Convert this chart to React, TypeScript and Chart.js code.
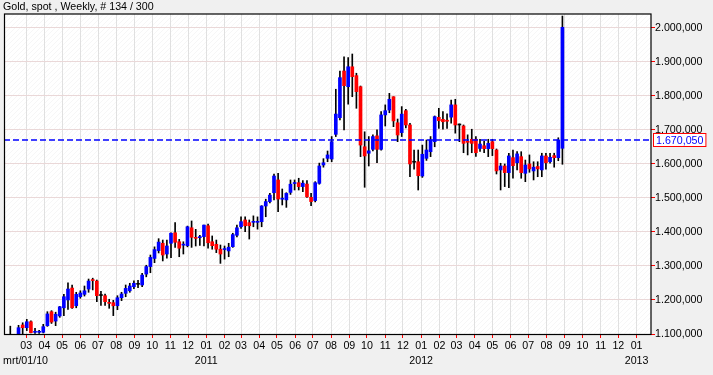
import React, { useEffect, useRef } from "react";
import { Chart, registerables } from "chart.js";

Chart.register(...registerables);

const TITLE = "Gold, spot , Weekly, # 134 / 300";
const START_LABEL = "mrt/01/10";
const FIRST_CANDLE_UTC = Date.UTC(2010, 1, 2);
const FIRST_TICK = { year: 2010, month: 2 };
const LAST_TICK = { year: 2013, month: 0 };
const LAST_PRICE = 1670.05;
const Y_MIN = 1100;
const Y_MAX = 2040;
const X_MIN = -1.53;
const X_MAX = 155.5;
const yTickValues = [1100, 1200, 1300, 1400, 1500, 1600, 1700, 1800, 1900, 2000];

const opens = [
  1085, 1090, 1090, 1126.5, 1118.5, 1136, 1105, 1105, 1105, 1124.5,
  1165.5, 1138, 1153, 1177, 1200, 1235, 1183, 1209.5, 1216.5, 1232,
  1258, 1255.5, 1213, 1212.5, 1191, 1192, 1183, 1206.5, 1219.5, 1227,
  1239, 1246, 1244, 1276, 1298, 1322, 1345, 1366.6, 1335, 1366.5,
  1397.5, 1371, 1361, 1359.5, 1412, 1382, 1383, 1386, 1418, 1371,
  1363.5, 1349, 1348, 1344, 1356.5, 1390, 1415, 1435, 1427, 1428,
  1428, 1430, 1476, 1489, 1515, 1552.5, 1496, 1494, 1516, 1542,
  1544.5, 1533, 1540.5, 1501.5, 1492, 1542.5, 1596.5, 1616, 1614, 1686.5,
  1735.5, 1872.5, 1826.5, 1885, 1859, 1826.5, 1650, 1631, 1642.5, 1682,
  1642.5, 1743.5, 1758, 1797, 1720.5, 1691.5, 1756, 1714, 1604.5, 1606,
  1564, 1616, 1635.5, 1665, 1736.5, 1730.5, 1726, 1737, 1773, 1714,
  1711, 1664, 1672, 1672, 1645, 1653, 1644.5, 1665, 1640.5, 1582,
  1593.5, 1574, 1618, 1603, 1621, 1572, 1599.5, 1579, 1592, 1582,
  1623, 1606, 1624, 1618, 1645.5,
];

const highs = [
  1123, 1098, 1125.5, 1133, 1143, 1139, 1117, 1111, 1128.5, 1165.5,
  1168.5, 1164, 1181, 1216.5, 1250, 1244, 1222.5, 1227, 1241, 1261.5,
  1264, 1258.5, 1225, 1217.5, 1202, 1199, 1212.5, 1222.5, 1244, 1249,
  1256.5, 1258, 1278, 1302, 1332, 1356, 1380, 1376, 1376, 1397.5,
  1427, 1378, 1371, 1417, 1432, 1407.5, 1390, 1420, 1423, 1388,
  1376, 1361.5, 1358.5, 1366.5, 1396, 1420, 1444.5, 1444.5, 1435, 1447,
  1444, 1477, 1496, 1513, 1570, 1572, 1526, 1515, 1552.5, 1552.5,
  1557.5, 1550.5, 1550.5, 1513, 1547.5, 1602, 1615, 1637.5, 1680, 1819,
  1872.5, 1914.5, 1912, 1922.5, 1866, 1828.5, 1694, 1680, 1685, 1699.5,
  1753, 1773, 1807, 1797, 1731.5, 1768, 1760, 1719, 1640.5, 1640.5,
  1655, 1670, 1680, 1740.5, 1763, 1753, 1747, 1787.5, 1789.5, 1717,
  1714, 1685, 1701.5, 1680, 1672, 1666, 1672, 1672, 1643.5, 1601.5,
  1599.5, 1631, 1640.5, 1635.5, 1635.5, 1611, 1626, 1606, 1606, 1631,
  1631, 1631, 1631, 1676.5, 2034,
];

const lows = [
  1070, 1060, 1080, 1098, 1110, 1103, 1102, 1102, 1103, 1122.5,
  1131, 1124.5, 1149, 1154, 1172.5, 1175, 1177, 1205, 1211.5, 1222.5,
  1229.5, 1195, 1184, 1184, 1175.5, 1154, 1171.5, 1198, 1209.5, 1222.5,
  1233, 1236, 1239, 1268, 1280, 1309.5, 1338, 1314.6, 1323, 1324,
  1354.5, 1327, 1335, 1356, 1354.5, 1358.5, 1360, 1358.5, 1352, 1349,
  1339, 1307.5, 1320, 1327, 1354.5, 1385, 1410.5, 1400.5, 1379, 1415,
  1408, 1415, 1444.5, 1485, 1494, 1459, 1479, 1472, 1510, 1523,
  1523, 1518, 1501.5, 1477, 1488, 1540, 1590, 1606, 1606, 1680,
  1729, 1699.5, 1775, 1797, 1763, 1621, 1531, 1593.5, 1638, 1603,
  1640, 1711, 1750, 1709, 1665, 1680, 1705, 1562, 1584, 1523,
  1560, 1610, 1621, 1650, 1704, 1701.5, 1704, 1719, 1690, 1665,
  1632.5, 1626, 1632.5, 1622, 1636, 1633, 1621, 1624, 1570, 1523,
  1533, 1530, 1557.5, 1582, 1557.5, 1547.5, 1575, 1552.5, 1562, 1562,
  1584, 1601.5, 1590, 1609, 1598.5,
];

const closes = [
  1095, 1075, 1118.5, 1118.5, 1136, 1104, 1106, 1107, 1121.5, 1159,
  1135, 1158, 1180, 1209.5, 1232, 1177, 1216.5, 1220.5, 1227, 1255.5,
  1257, 1212.5, 1213, 1195, 1190, 1183, 1206.5, 1217.5, 1234, 1241,
  1249, 1246, 1273, 1298, 1325, 1348, 1370, 1332, 1358.5, 1396,
  1369.5, 1352, 1361.5, 1415, 1384, 1381, 1384, 1420, 1368, 1359.5,
  1349, 1335, 1349, 1355, 1392, 1412, 1430, 1418, 1418, 1429,
  1429, 1476, 1489, 1508, 1564, 1496.5, 1497, 1513, 1540, 1543,
  1533, 1543, 1503, 1489, 1544.5, 1593.5, 1603, 1626, 1665, 1746,
  1853, 1829.5, 1885, 1856, 1812, 1655, 1623, 1638, 1680, 1642.5,
  1743.5, 1756, 1789.5, 1726, 1684.5, 1746, 1714, 1599.5, 1604.5, 1565,
  1628, 1640.5, 1670, 1738.5, 1726.5, 1723.5, 1725, 1773, 1714, 1714,
  1660, 1663, 1660, 1632.5, 1658, 1644.5, 1660, 1644.5, 1579, 1593.5,
  1574, 1623, 1594.5, 1629, 1574, 1596.5, 1585, 1590, 1585, 1623,
  1603, 1619, 1618, 1670.05, 2001,
];

const FONT_FAMILY = '"Liberation Sans", Arial, Helvetica, sans-serif';
const FONT_SIZE = 10.67;

function fmt(v: number): string {
  const [intPart, dec] = v.toFixed(3).split(".");
  return intPart.replace(/\B(?=(\d{3})+(?!\d))/g, ".") + "," + dec;
}

type MonthTick = { value: number; label: string[] };
const monthTicks: MonthTick[] = [];
{
  let y = FIRST_TICK.year;
  let m = FIRST_TICK.month;
  while (y < LAST_TICK.year || (y === LAST_TICK.year && m <= LAST_TICK.month)) {
    const value = (Date.UTC(y, m, 1) - FIRST_CANDLE_UTC) / (7 * 86400000);
    const mm = String(m + 1).padStart(2, "0");
    monthTicks.push({ value, label: [mm, m === 0 ? String(y) : ""] });
    m++;
    if (m > 11) {
      m = 0;
      y++;
    }
  }
}

const decor = {
  id: "decor",
  beforeDraw(chart: any) {
    const { ctx, chartArea: a, width, height } = chart;
    ctx.save();
    ctx.fillStyle = "#f0f0f0";
    ctx.fillRect(0, 0, width, height);
    ctx.fillStyle = "#ffffff";
    ctx.fillRect(a.left, a.top, a.right - a.left, a.bottom - a.top);
    ctx.beginPath();
    ctx.rect(a.left, a.top, a.right - a.left, a.bottom - a.top);
    ctx.clip();
    ctx.strokeStyle = "rgba(0,0,0,0.035)";
    ctx.lineWidth = 1;
    ctx.beginPath();
    const h = a.bottom - a.top;
    for (let s = a.left - h; s < a.right; s += 5) {
      ctx.moveTo(s, a.bottom);
      ctx.lineTo(s + h, a.top);
    }
    ctx.stroke();
    ctx.restore();
  },
  afterDraw(chart: any) {
    const { ctx, chartArea: a } = chart;
    const yScale = chart.scales.y;
    ctx.save();
    ctx.strokeStyle = "#000000";
    ctx.lineWidth = 1.2;
    ctx.strokeRect(a.left + 0.5, a.top, a.right - a.left - 0.5, a.bottom - a.top + 0.5);

    ctx.font = `${FONT_SIZE}px ${FONT_FAMILY}`;
    ctx.fillStyle = "#000000";
    ctx.textAlign = "left";
    ctx.textBaseline = "alphabetic";
    ctx.fillText(TITLE, 3, 10);
    ctx.fillText(START_LABEL, 3, 364);

    const py = Math.round(yScale.getPixelForValue(LAST_PRICE));
    const label = fmt(LAST_PRICE);
    const tw = ctx.measureText(label).width;
    ctx.fillStyle = "#ffffff";
    ctx.fillRect(653.5, py - 6.5, tw + 5, 13);
    ctx.strokeStyle = "#ff0000";
    ctx.lineWidth = 1;
    ctx.strokeRect(653.5, py - 6.5, tw + 5, 13);
    ctx.fillStyle = "#0000ff";
    ctx.fillText(label, 656, py + 4);
    ctx.restore();
  },
};

export default function App() {
  const ref = useRef<HTMLCanvasElement | null>(null);

  useEffect(() => {
    document.body.style.margin = "0";
    const canvas = ref.current;
    if (!canvas) return;

    const bodies = opens.map((o, i) => ({ x: i, y: [o, closes[i]] }));
    const bodyColors = opens.map((o, i) =>
      closes[i] > o ? "#0000ff" : closes[i] < o ? "#ff0000" : "#000000"
    );
    const wicks = highs.map((h, i) => ({ x: i, y: [lows[i], h] }));

    const tickFont = { family: FONT_FAMILY, size: FONT_SIZE, lineHeight: 1.45 };

    const chart = new Chart(canvas, {
      type: "bar",
      data: {
        datasets: [
          {
            type: "line",
            data: [
              { x: X_MIN, y: LAST_PRICE },
              { x: X_MAX, y: LAST_PRICE },
            ],
            borderColor: "#0000ff",
            borderWidth: 1.5,
            borderDash: [6, 3],
            pointRadius: 0,
            order: 0,
            clip: 0,
          } as any,
          {
            type: "bar",
            data: bodies,
            backgroundColor: bodyColors,
            barThickness: 3,
            minBarLength: 1,
            grouped: false,
            order: 1,
            clip: 0,
          } as any,
          {
            type: "bar",
            data: wicks,
            backgroundColor: "#000000",
            barThickness: 1,
            grouped: false,
            order: 2,
            clip: 0,
          } as any,
        ],
      },
      options: {
        responsive: false,
        animation: false,
        layout: { padding: { left: 4, top: 14, right: 0, bottom: 0 } },
        plugins: { legend: { display: false }, tooltip: { enabled: false } },
        scales: {
          x: {
            type: "linear",
            min: X_MIN,
            max: X_MAX,
            offset: false,
            afterBuildTicks: (s: any) => {
              s.ticks = monthTicks.map((t) => ({ value: t.value }));
            },
            afterFit: (s: any) => {
              s.height = 41;
            },
            grid: {
              offset: false,
              color: "#e0e0e0",
              tickColor: "#ff0000",
              tickLength: 4,
              lineWidth: 1,
            },
            border: { display: false },
            ticks: {
              autoSkip: false,
              maxRotation: 0,
              padding: 0,
              color: "#000000",
              font: tickFont,
              callback: (_v: any, i: number) => monthTicks[i]?.label ?? "",
            },
          },
          y: {
            type: "linear",
            position: "right",
            min: Y_MIN,
            max: Y_MAX,
            afterBuildTicks: (s: any) => {
              s.ticks = yTickValues.map((v) => ({ value: v }));
            },
            afterFit: (s: any) => {
              s.width = 62;
            },
            grid: {
              color: "#ead8d8",
              tickColor: "#ff0000",
              tickLength: 4,
              lineWidth: 1,
            },
            border: { display: false },
            ticks: {
              padding: 0,
              color: "#000000",
              font: tickFont,
              callback: (v: any) => fmt(Number(v)),
            },
          },
        },
      } as any,
      plugins: [decor],
    });

    return () => chart.destroy();
  }, []);

  return (
    <div style={{ width: 713, height: 375, background: "#f0f0f0" }}>
      <canvas ref={ref} width={713} height={375} style={{ display: "block" }} />
    </div>
  );
}
